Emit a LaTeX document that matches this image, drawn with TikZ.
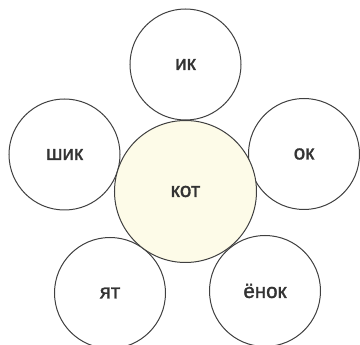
\documentclass[tikz,border=0pt]{standalone}
\usepackage{fontspec}
\setmainfont{Liberation Sans}
\newfontfamily\lblfont[FakeBold=1.5]{Liberation Sans}
\begin{document}
\begin{tikzpicture}[x=1pt,y=-1pt,
  petal/.style={circle,draw=black!75,line width=1pt,minimum size=111pt,inner sep=0pt,fill=white},
  core/.style={circle,draw=black!75,line width=1pt,minimum size=142pt,inner sep=0pt,fill={rgb,255:red,253;green,251;blue,232}},
  lbl/.style={font=\lblfont\fontsize{20.5}{24}\selectfont,text=black!80}]
\useasboundingbox (0,0) rectangle (360,345);
\node[petal] (top) at (185.5,64.5) {};
\node[petal] (left) at (64.5,154.5) {};
\node[petal] (right) at (304,154) {};
\node[petal] (bl) at (110,293) {};
\node[petal] (br) at (265,291) {};
\node[core] (center) at (185.5,191.5) {};
\node[lbl] at (top) {ик};
\node[lbl] at (left) {шик};
\node[lbl] at (right) {ок};
\node[lbl] at (bl) {ят};
\node[lbl] at (br) {ёнок};
\node[lbl] at (center) {кот};
\end{tikzpicture}
\end{document}
